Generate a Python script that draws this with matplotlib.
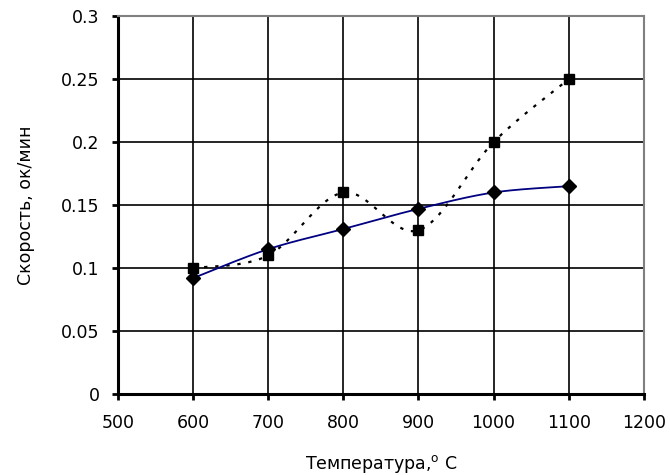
import numpy as np
import matplotlib
matplotlib.use("Agg")
import matplotlib.pyplot as plt

plt.rcParams['font.family'] = ['DejaVu Sans']

temperature = [600, 700, 800, 900, 1000, 1100]
speed_squares = [0.10, 0.11, 0.16, 0.13, 0.20, 0.25]
speed_diamonds = [0.092, 0.115, 0.131, 0.147, 0.160, 0.165]

x_ticks = [500, 600, 700, 800, 900, 1000, 1100, 1200]
y_ticks = [0, 0.05, 0.1, 0.15, 0.2, 0.25, 0.3]
y_tick_labels = ['0', '0.05', '0.1', '0.15', '0.2', '0.25', '0.3']


def smooth(xs, ys, n=30):
    """Catmull-Rom style Bezier smoothing through the given points."""
    xs = np.asarray(xs, float)
    ys = np.asarray(ys, float)
    px = np.concatenate([[xs[0]], xs, [xs[-1]]])
    py = np.concatenate([[ys[0]], ys, [ys[-1]]])
    out_x, out_y = [], []
    t = np.linspace(0, 1, n)
    for i in range(1, len(px) - 2):
        p0 = np.array([px[i], py[i]])
        p3 = np.array([px[i + 1], py[i + 1]])
        p1 = p0 + (np.array([px[i + 1], py[i + 1]]) - np.array([px[i - 1], py[i - 1]])) / 6
        p2 = p3 - (np.array([px[i + 2], py[i + 2]]) - np.array([px[i], py[i]])) / 6
        b = ((1 - t) ** 3)[:, None] * p0 + (3 * (1 - t) ** 2 * t)[:, None] * p1 \
            + (3 * (1 - t) * t ** 2)[:, None] * p2 + (t ** 3)[:, None] * p3
        out_x.extend(b[:, 0])
        out_y.extend(b[:, 1])
    return np.array(out_x), np.array(out_y)


fig = plt.figure(figsize=(6.7, 4.75), dpi=100)
ax = fig.add_axes([0.176, 0.1705, 0.785, 0.7955])

ax.set_xlim(500, 1200)
ax.set_ylim(0, 0.3)
ax.set_xticks(x_ticks)
ax.set_yticks(y_ticks)
ax.set_yticklabels(y_tick_labels)
ax.grid(True, color='black', linewidth=1.2)
ax.set_axisbelow(True)

for side in ('top', 'right'):
    ax.spines[side].set_color('#808080')
    ax.spines[side].set_linewidth(1.5)
for side in ('left', 'bottom'):
    ax.spines[side].set_color('black')
    ax.spines[side].set_linewidth(2.2)

ax.tick_params(axis='both', direction='out', length=4.3, width=2, color='black',
               labelsize=12.5)
ax.tick_params(axis='x', pad=10)
ax.tick_params(axis='y', pad=9)

sx, sy = smooth(temperature, speed_squares)
ax.plot(sx, sy, color='black', linestyle=(0, (1.5, 3.5)), linewidth=1.6, zorder=3)
ax.plot(temperature, speed_squares, linestyle='none', marker='s', markersize=7.5,
        color='black', zorder=4)

dx, dy = smooth(temperature, speed_diamonds)
ax.plot(dx, dy, color='#000080', linewidth=1.3, zorder=3)
ax.plot(temperature, speed_diamonds, linestyle='none', marker='D', markersize=7,
        color='black', zorder=4)

ax.set_xlabel('Температура,$^{\\mathrm{o}}$ C', fontsize=12.5, labelpad=15)
ax.set_ylabel('Скорость, ок/мин', fontsize=12.5, labelpad=19)

fig.savefig('out.png', dpi=100, facecolor='white')
